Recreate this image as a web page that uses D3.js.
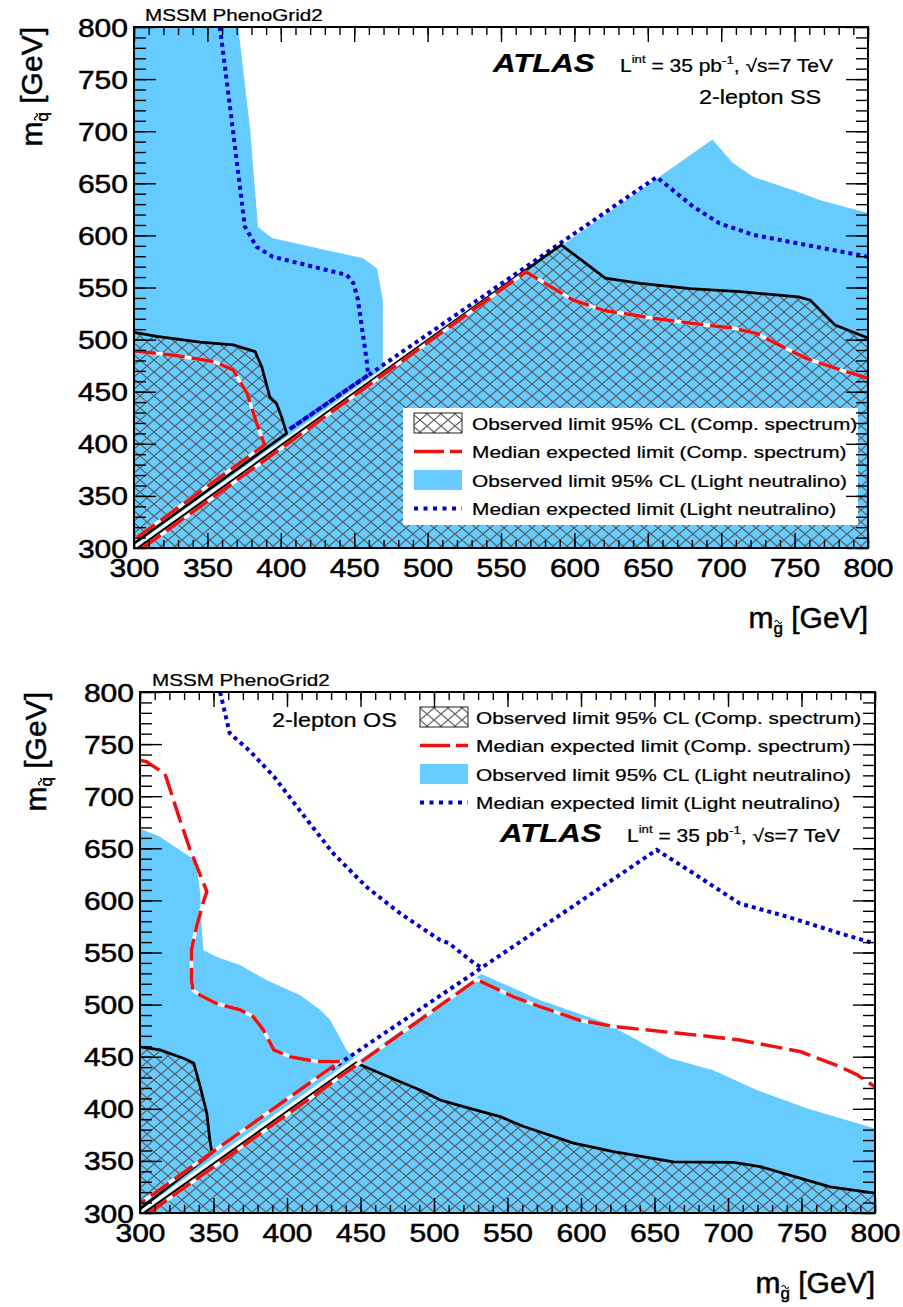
<!DOCTYPE html>
<html>
<head>
<meta charset="utf-8">
<script src="https://cdn.jsdelivr.net/npm/d3@7"></script>
<style>
  html, body { margin: 0; padding: 0; background: #fff; }
  svg { display: block; }
  text { font-family: "Liberation Sans", Arial, Helvetica, sans-serif; fill: #000; }
  .heavy { stroke: #000; stroke-width: 0.5px; }
  .medium { stroke: #000; stroke-width: 0.25px; }
</style>
</head>
<body>
<svg id="chart" width="903" height="1307"></svg>
<script>
// ---------------- data (GeV) ----------------
const xTickValues = [300, 350, 400, 450, 500, 550, 600, 650, 700, 750, 800];
const yTickValues = [300, 350, 400, 450, 500, 550, 600, 650, 700, 750, 800];
const massDomain = [300, 800];

const legendLabels = [
  "Observed limit 95% CL (Comp. spectrum)",
  "Median expected limit (Comp. spectrum)",
  "Observed limit 95% CL (Light neutralino)",
  "Median expected limit (Light neutralino)"
];

// 2-lepton SS
const ssLightObs = [[300,800],[371,800],[379,703],[384.5,608],[394,597.5],[456,578],[465.5,568.5],[469.5,538],[469.5,478],[470,470],[694,692],[708,669.5],[722,656],[752,642],[767,634],[800,621.5],[800,300],[300,300]];
const ssCompObsUpper = [[300,507],[315.5,503],[345,497.5],[367.5,495],[382.5,488.5],[387,474],[392.5,445],[397,439],[400.5,426],[404,410],[300,304.5]];
const ssCompObsLower = [[303,300],[591,591],[621,559],[645,554],[679,549],[713,546],[752.5,541],[760.5,538],[777.5,514],[800,501.5]];
const ssCompExpUpper = [[300,489],[327,485],[354,479],[367.5,471],[377,448.5],[383.5,420],[389,399],[300,308]];
const ssCompExpLower = [[306,300],[567,565],[599,538],[620,528],[654,520.5],[681,515.5],[708,511],[724,506],[742,493],[758,482],[781,471],[800,463]];
const ssLightExpUpper = [[358.5,800],[366.5,711],[375.5,608.5],[383.5,589],[394.5,579.5],[445,562],[449.5,554],[452.5,538.5],[458.5,480],[459.5,466],[406,414]];
const ssLightExpLower = [[406,414],[656,656],[681,627.5],[699,611.5],[722,600.5],[765,589],[800,579.5]];
const ssGap = [[300,300],[470,470]];

// 2-lepton OS
const osLightObs = [[300,669],[313.5,661],[334,642],[338.5,632.5],[341,607],[342,575],[343,552.5],[352,546],[368,538],[386,523.5],[409,509],[422.5,495],[429.5,485],[440.5,456.5],[445,448.5],[531,530],[572,504.5],[617.5,482],[660.5,448.5],[690,437],[719.5,418],[753.5,400.5],[800,381],[800,300],[300,300]];
const osCompObsUpper = [[300,459.5],[313.5,456.5],[329.5,448.5],[336.5,444],[341,421],[345.5,395.5],[347.5,370],[349,357.5],[300,304]];
const osCompObsLower = [[303,300],[447,444],[477,426],[490.5,418],[505,408],[520,402],[545,392.5],[561,383],[595,367],[622,359],[663,349],[703.5,348.5],[722,344.5],[749,333.5],[769.5,325],[800,319]];
const osCompExpUpper = [[300,734.5],[304.5,733],[317,721.5],[327,678],[334,649],[345.5,608.5],[343.5,600.5],[338.5,575],[335,552.5],[335,523.5],[336,514],[341,509],[352,501],[368,495],[377,488.5],[384,475.5],[391,456.5],[402,450],[420,445.5],[436,445.5],[300,309]];
const osCompExpLower = [[306,300],[529,524],[554,507.5],[572,498],[599,485],[622,479],[690,469],[708,466],[749,455],[776,440.5],[788,432.5],[800,421]];
const osLightExpUpper = [[354.5,800],[361,760.5],[375,743],[391,719],[413.5,677.5],[431.5,645],[454,613],[477,587.5],[504,562],[510,559],[527,540],[532,536]];
const osLightExpLower = [[430,438],[651.5,648.5],[676.5,626],[708,597],[740,584.5],[776,568.5],[800,558.5]];
const osGap = [[300,300],[531,531]];

// ---------------- style ----------------
const LIGHT_BLUE = "#66ccff";
const DARK_BLUE = "#0000cc";
const RED = "#ee1111";
const HATCH = "#5a5a5a";
const STRETCH = 1.2;   // horizontal widening of the lettering

const svg = d3.select("#chart");
const defs = svg.append("defs");

function addHatch(id, w, h) {
  const p = defs.append("pattern").attr("id", id)
    .attr("patternUnits", "userSpaceOnUse").attr("width", w).attr("height", h);
  p.append("path")
    .attr("d", `M0,0L${w},${h}M${w},0L0,${h}`)
    .attr("stroke", HATCH).attr("stroke-width", 1.1).attr("fill", "none");
}
addHatch("hatch", 14, 12);

function wideText(parent, x, y, str, size, opts = {}) {
  return parent.append("text")
    .attr("class", opts.cls || "medium")
    .attr("transform", `translate(${x},${y}) scale(${STRETCH},1)`)
    .attr("font-size", size)
    .attr("text-anchor", opts.anchor || "start")
    .attr("font-weight", opts.weight || null)
    .attr("font-style", opts.style || null)
    .text(str);
}

// "m" with a tilde-marked subscript followed by " [GeV]"
function massTitle(parent, transform, sub) {
  const g = parent.append("g").attr("transform", transform);
  const t = g.append("text").attr("class", "heavy").attr("text-anchor", "end").attr("font-size", 30);
  t.append("tspan").text("m");
  t.append("tspan").attr("font-size", 17).attr("dy", 6).text(sub);
  t.append("tspan").attr("font-size", 30).attr("dy", -6).text(" [GeV]");
  const p = t.node().getStartPositionOfChar(1);
  const cx = p.x + 4.8, cy = p.y - 13;
  g.append("path")
    .attr("d", `M${cx - 3.5},${cy + 1} q1.75,-3 3.5,0 t3.5,0`)
    .attr("fill", "none").attr("stroke", "#000").attr("stroke-width", 1.2);
}

function drawPanel(p) {
  const x = d3.scaleLinear().domain(massDomain).range([p.left, p.right]);
  const y = d3.scaleLinear().domain(massDomain).range([p.bottom, p.top]);
  const line = d3.line().x(d => x(d[0])).y(d => y(d[1]));

  defs.append("clipPath").attr("id", p.id + "-clip")
    .append("rect").attr("x", p.left).attr("y", p.top)
    .attr("width", p.right - p.left).attr("height", p.bottom - p.top);

  const plot = svg.append("g").attr("clip-path", `url(#${p.id}-clip)`);

  // light-neutralino observed exclusion
  plot.append("path").attr("d", line(p.lightObs) + "Z").attr("fill", LIGHT_BLUE);
  // compressed-spectrum observed exclusion (hatched)
  plot.append("path").attr("d", line(p.compObsUpper) + "Z").attr("fill", "url(#hatch)");
  plot.append("path").attr("d", line(p.compObsLower.concat([[800, 300]])) + "Z").attr("fill", "url(#hatch)");
  // unfilled band along the diagonal
  plot.append("path").attr("d", line(p.gap)).attr("fill", "none")
    .attr("stroke", "#fff").attr("stroke-width", 4.5);

  // light-neutralino expected
  [p.lightExpUpper, p.lightExpLower].forEach(seg => {
    plot.append("path").attr("d", line(seg)).attr("fill", "none")
      .attr("stroke", DARK_BLUE).attr("stroke-width", 4).attr("stroke-dasharray", "4,4");
  });
  // compressed-spectrum observed contour
  [p.compObsUpper, p.compObsLower].forEach(seg => {
    plot.append("path").attr("d", line(seg)).attr("fill", "none")
      .attr("stroke", "#000").attr("stroke-width", 2.8).attr("stroke-linejoin", "round");
  });
  // compressed-spectrum expected contour (red dashes on a white line)
  [p.compExpUpper, p.compExpLower].forEach(seg => {
    plot.append("path").attr("d", line(seg)).attr("fill", "none")
      .attr("stroke", "#fff").attr("stroke-width", 3.5).attr("stroke-linejoin", "round");
    plot.append("path").attr("d", line(seg)).attr("fill", "none")
      .attr("stroke", RED).attr("stroke-width", 3.5).attr("stroke-dasharray", "22,7")
      .attr("stroke-linejoin", "round");
  });

  // legend
  const lg = svg.append("g");
  if (p.legendBox) {
    lg.append("rect").attr("x", p.legendBox[0]).attr("y", p.legendBox[1])
      .attr("width", p.legendBox[2]).attr("height", p.legendBox[3]).attr("fill", "#fff");
  }
  legendLabels.forEach((lab, i) => {
    const cy = p.legendY + i * 28.5;
    const sx = p.legendX;
    if (i === 0) {
      lg.append("rect").attr("x", sx).attr("y", cy - 10).attr("width", 48).attr("height", 20)
        .attr("fill", "#fff");
      lg.append("rect").attr("x", sx).attr("y", cy - 10).attr("width", 48).attr("height", 20)
        .attr("fill", "url(#hatch)").attr("stroke", "#222").attr("stroke-width", 1);
    } else if (i === 1) {
      lg.append("line").attr("x1", sx).attr("x2", sx + 48).attr("y1", cy).attr("y2", cy)
        .attr("stroke", RED).attr("stroke-width", 3.5).attr("stroke-dasharray", "30,6");
    } else if (i === 2) {
      lg.append("rect").attr("x", sx).attr("y", cy - 10).attr("width", 48).attr("height", 20)
        .attr("fill", LIGHT_BLUE);
    } else {
      lg.append("line").attr("x1", sx).attr("x2", sx + 48).attr("y1", cy).attr("y2", cy)
        .attr("stroke", DARK_BLUE).attr("stroke-width", 4).attr("stroke-dasharray", "4,5.5");
    }
    wideText(lg, p.legendTextX, cy + 6.5, lab, 17.4);
  });

  // axes
  const minor = d3.range(300, 801, 10);
  const ax = svg.append("g");
  const tickStyle = g => {
    g.select(".domain").remove();
    g.selectAll(".tick line").attr("stroke", "#000").attr("stroke-width", 1.4);
  };
  ax.append("g").attr("transform", `translate(0,${p.bottom})`)
    .call(d3.axisBottom(x).tickValues(minor).tickSize(-8).tickFormat("")).call(tickStyle);
  ax.append("g").attr("transform", `translate(0,${p.top})`)
    .call(d3.axisTop(x).tickValues(minor).tickSize(-8).tickFormat("")).call(tickStyle);
  ax.append("g").attr("transform", `translate(0,${p.top})`)
    .call(d3.axisTop(x).tickValues(xTickValues).tickSize(-15).tickFormat("")).call(tickStyle);
  ax.append("g").attr("transform", `translate(${p.left},0)`)
    .call(d3.axisLeft(y).tickValues(minor).tickSize(-12).tickFormat("")).call(tickStyle);
  ax.append("g").attr("transform", `translate(${p.right},0)`)
    .call(d3.axisRight(y).tickValues(minor).tickSize(-12).tickFormat("")).call(tickStyle);
  ax.append("g").attr("transform", `translate(${p.right},0)`)
    .call(d3.axisRight(y).tickValues(yTickValues).tickSize(-22).tickFormat("")).call(tickStyle);

  const bottomAxis = ax.append("g").attr("transform", `translate(0,${p.bottom})`)
    .call(d3.axisBottom(x).tickValues(xTickValues).tickSize(-15).tickFormat(d3.format("d")))
    .call(tickStyle);
  bottomAxis.selectAll(".tick text")
    .attr("class", "heavy")
    .attr("y", null).attr("dy", null).attr("fill", "#000")
    .attr("font-size", 25)
    .attr("transform", `translate(0,29) scale(${STRETCH},1)`);

  const leftAxis = ax.append("g").attr("transform", `translate(${p.left},0)`)
    .call(d3.axisLeft(y).tickValues(yTickValues).tickSize(-22).tickFormat(d3.format("d")))
    .call(tickStyle);
  leftAxis.selectAll(".tick text")
    .attr("class", "heavy")
    .attr("x", null).attr("dy", null).attr("fill", "#000")
    .attr("font-size", 25)
    .attr("transform", `translate(-6,9) scale(${STRETCH},1)`);
  bottomAxis.attr("font-family", null);
  leftAxis.attr("font-family", null);

  // frame
  svg.append("rect").attr("x", p.left).attr("y", p.top)
    .attr("width", p.right - p.left).attr("height", p.bottom - p.top)
    .attr("fill", "none").attr("stroke", "#000").attr("stroke-width", 2);

  // titles
  massTitle(svg, `translate(${p.right},${p.bottom + 80})`, "g");
  massTitle(svg, `translate(${p.yTitleX},${p.top}) rotate(-90)`, "q");

  // annotations
  wideText(svg, p.gridX, p.gridY, "MSSM PhenoGrid2", 17.2);
  wideText(svg, p.atlasX, p.atlasY, "ATLAS", 26, { weight: "bold", style: "italic" });
  const lum = svg.append("text")
    .attr("class", "medium")
    .attr("transform", `translate(${p.lumiX},${p.atlasY}) scale(${STRETCH},1)`)
    .attr("font-size", 17.5);
  lum.append("tspan").text("L");
  lum.append("tspan").attr("font-size", 11).attr("dy", -9).text("int");
  lum.append("tspan").attr("font-size", 17.5).attr("dy", 9).text(" = 35 pb");
  lum.append("tspan").attr("font-size", 11).attr("dy", -8).text("-1");
  lum.append("tspan").attr("font-size", 17.5).attr("dy", 8).text(", \u221As=7 TeV");
  wideText(svg, p.channelX, p.channelY, p.channel, 19.5);
}

drawPanel({
  id: "ss", left: 134, right: 868, top: 27, bottom: 548,
  lightObs: ssLightObs, compObsUpper: ssCompObsUpper, compObsLower: ssCompObsLower,
  compExpUpper: ssCompExpUpper, compExpLower: ssCompExpLower,
  lightExpUpper: ssLightExpUpper, lightExpLower: ssLightExpLower, gap: ssGap,
  legendBox: [403, 408, 455, 117], legendX: 414, legendY: 423, legendTextX: 472,
  yTitleX: 42, gridX: 145, gridY: 21,
  atlasX: 493, atlasY: 72, lumiX: 620,
  channel: "2-lepton SS", channelX: 699, channelY: 104
});

drawPanel({
  id: "os", left: 140, right: 875, top: 692, bottom: 1213,
  lightObs: osLightObs, compObsUpper: osCompObsUpper, compObsLower: osCompObsLower,
  compExpUpper: osCompExpUpper, compExpLower: osCompExpLower,
  lightExpUpper: osLightExpUpper, lightExpLower: osLightExpLower, gap: osGap,
  legendBox: null, legendX: 420, legendY: 717, legendTextX: 476,
  yTitleX: 46, gridX: 152, gridY: 686,
  atlasX: 500, atlasY: 842, lumiX: 627,
  channel: "2-lepton OS", channelX: 272, channelY: 727
});
</script>
</body>
</html>
